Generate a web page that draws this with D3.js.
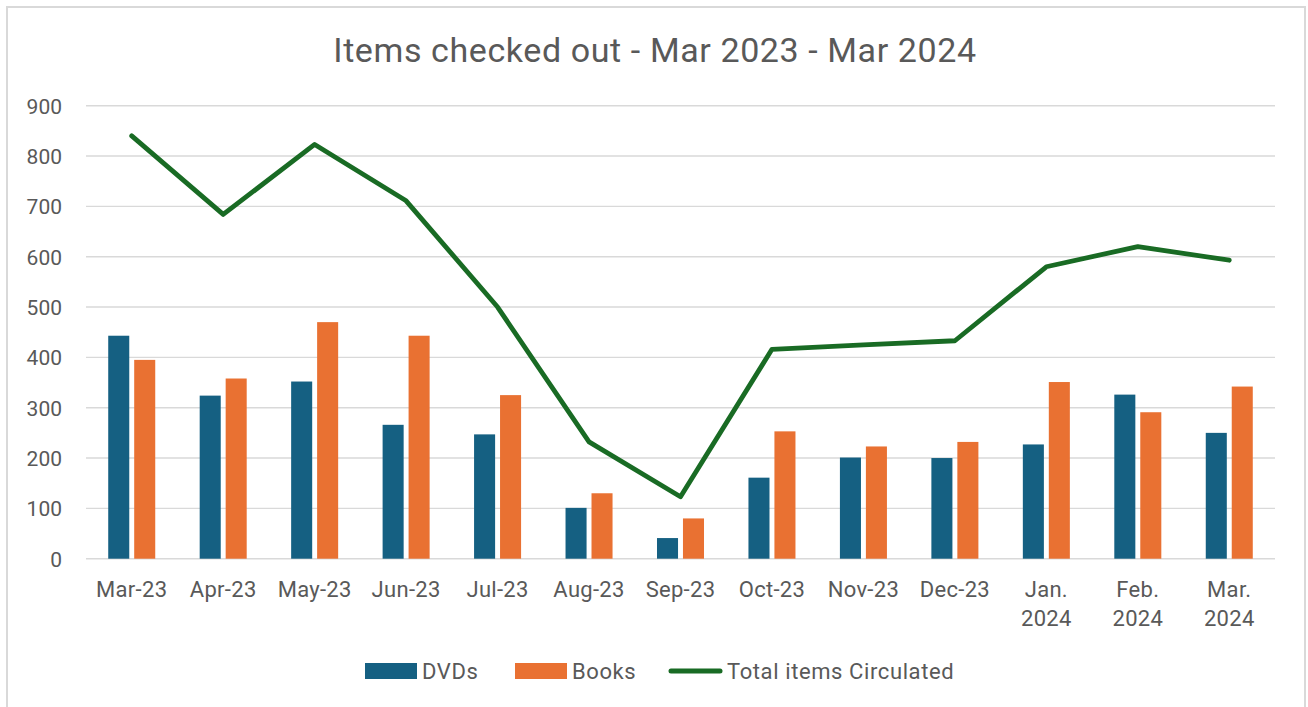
<!DOCTYPE html>
<html>
<head>
<meta charset="utf-8">
<script src="https://cdn.jsdelivr.net/npm/d3@7"></script>
<style>
  html, body { margin: 0; padding: 0; background: #ffffff; }
  svg { display: block; font-family: Roboto, "Noto Sans", sans-serif; }
</style>
</head>
<body>
<svg id="chart" width="1308" height="707"></svg>
<script>
// Monthly circulation figures
const months = ["Mar-23", "Apr-23", "May-23", "Jun-23", "Jul-23", "Aug-23", "Sep-23",
                "Oct-23", "Nov-23", "Dec-23", "Jan. 2024", "Feb. 2024", "Mar. 2024"];
const dvds  = [443, 324, 352, 266, 247, 101, 41, 161, 201, 200, 227, 326, 250];
const books = [395, 358, 470, 443, 325, 130, 80, 253, 223, 232, 351, 291, 342];
const totalCirculated = [840, 684, 823, 711, 500, 232, 123, 416, 425, 433, 580, 620, 593];
const yTicks = [0, 100, 200, 300, 400, 500, 600, 700, 800, 900];
const seriesNames = ["DVDs", "Books", "Total items Circulated"];

const colors = { DVDs: "#156082", Books: "#E97132", total: "#196B24" };
const textColor = "#595959";
const gridColor = "#d9d9d9";

const svg = d3.select("#chart");

// Outer chart frame
svg.append("rect")
  .attr("x", 7).attr("y", 7)
  .attr("width", 1298).attr("height", 720)
  .attr("fill", "#ffffff")
  .attr("stroke", gridColor).attr("stroke-width", 2);

const plot = { left: 86, right: 1275, top: 105.7, bottom: 558.7 };

const y = d3.scaleLinear().domain([0, 900]).range([plot.bottom, plot.top]);
const x0 = d3.scaleBand().domain(months).range([plot.left, plot.right]).paddingInner(0.486).paddingOuter(0.243);
const x1 = d3.scaleBand().domain(["DVDs", "Books"]).range([0, x0.bandwidth()]).paddingInner(0.19).paddingOuter(0);

// Title
svg.append("text")
  .attr("x", 655).attr("y", 62)
  .attr("text-anchor", "middle")
  .attr("fill", textColor)
  .attr("font-size", 34)
  .attr("letter-spacing", 0.6)
  .text("Items checked out - Mar 2023 - Mar 2024");

// Gridlines
svg.append("g")
  .selectAll("line")
  .data(yTicks)
  .join("line")
  .attr("x1", plot.left).attr("x2", plot.right)
  .attr("y1", d => y(d)).attr("y2", d => y(d))
  .attr("stroke", gridColor).attr("stroke-width", 1.4);

// Y axis labels
const yAxis = d3.axisLeft(y).tickValues(yTicks).tickSize(0).tickPadding(0);
const yG = svg.append("g").attr("transform", "translate(62,0)").call(yAxis);
yG.select(".domain").remove();
yG.selectAll("text")
  .attr("fill", textColor)
  .attr("font-size", 21)
  .attr("font-family", "Roboto, sans-serif")
  .attr("dy", "0.36em");

// Bars
const groups = svg.append("g")
  .selectAll("g")
  .data(months.map((m, i) => ({ m, vals: [{ k: "DVDs", v: dvds[i] }, { k: "Books", v: books[i] }] })))
  .join("g")
  .attr("transform", d => `translate(${x0(d.m)},0)`);

groups.selectAll("rect")
  .data(d => d.vals)
  .join("rect")
  .attr("x", d => x1(d.k))
  .attr("width", x1.bandwidth())
  .attr("y", d => y(d.v))
  .attr("height", d => y(0) - y(d.v))
  .attr("fill", d => colors[d.k]);

// Total line
const line = d3.line()
  .x((d, i) => x0(months[i]) + x0.bandwidth() / 2)
  .y(d => y(d));

svg.append("path")
  .datum(totalCirculated)
  .attr("d", line)
  .attr("fill", "none")
  .attr("stroke", colors.total)
  .attr("stroke-width", 4.8)
  .attr("stroke-linejoin", "round")
  .attr("stroke-linecap", "round");

// X axis labels (wrapped on the space)
const xLab = svg.append("g")
  .selectAll("text")
  .data(months)
  .join("text")
  .attr("x", d => x0(d) + x0.bandwidth() / 2)
  .attr("y", 597)
  .attr("text-anchor", "middle")
  .attr("fill", textColor)
  .attr("font-size", 22)
  .attr("letter-spacing", 0.3);

xLab.each(function(d) {
  const parts = d.split(" ");
  const t = d3.select(this);
  parts.forEach((p, i) => {
    t.append("tspan")
      .attr("x", x0(d) + x0.bandwidth() / 2)
      .attr("dy", i === 0 ? 0 : 29)
      .text(p);
  });
});

// Legend
const legend = svg.append("g").attr("font-size", 22).attr("fill", textColor).attr("letter-spacing", 0.6);
legend.append("rect").attr("x", 365).attr("y", 663).attr("width", 52).attr("height", 16).attr("fill", colors.DVDs);
legend.append("text").attr("x", 422).attr("y", 679).text(seriesNames[0]);
legend.append("rect").attr("x", 515).attr("y", 663).attr("width", 52).attr("height", 16).attr("fill", colors.Books);
legend.append("text").attr("x", 572).attr("y", 679).text(seriesNames[1]);
legend.append("line").attr("x1", 671).attr("x2", 720).attr("y1", 671).attr("y2", 671)
  .attr("stroke", colors.total).attr("stroke-width", 5).attr("stroke-linecap", "round");
legend.append("text").attr("x", 727).attr("y", 679).text(seriesNames[2]);
</script>
</body>
</html>
